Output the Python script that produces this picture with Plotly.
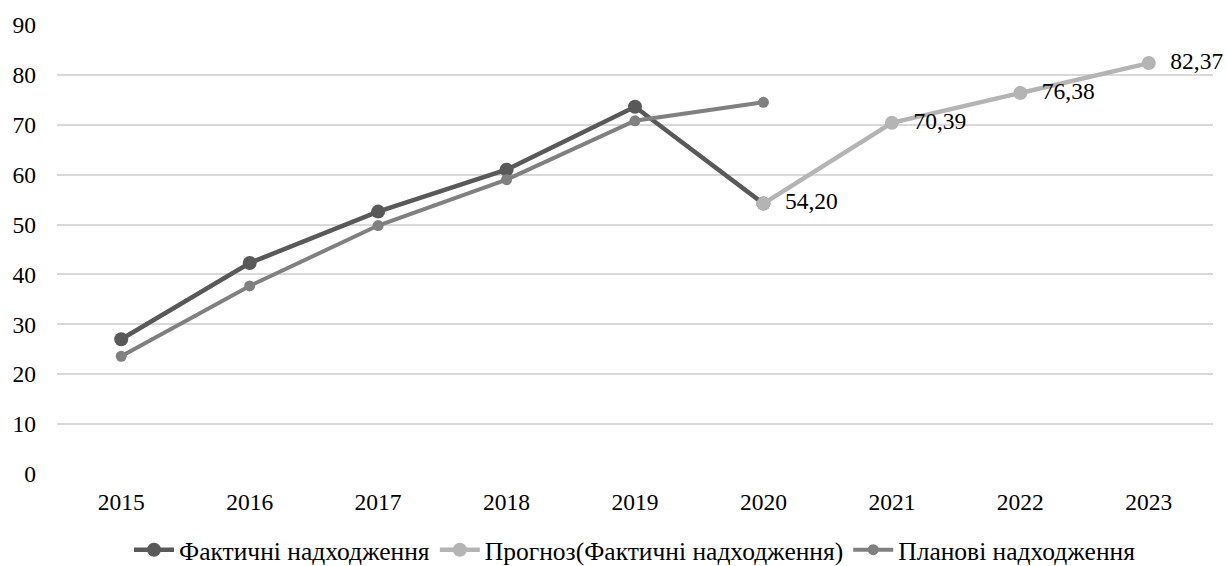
import plotly.graph_objects as go

# Years on the category axis
years = ["2015", "2016", "2017", "2018", "2019", "2020", "2021", "2022", "2023"]

# Actual revenues (2015–2020)
actual = [27.0, 42.3, 52.6, 61.0, 73.6, 54.20, None, None, None]

# Forecast continuing from the last actual value
forecast = [None, None, None, None, None, 54.20, 70.39, 76.38, 82.37]

# Planned revenues (2015–2020)
planned = [23.6, 37.7, 49.8, 59.0, 70.8, 74.5, None, None, None]

FONT = "Times New Roman, Liberation Serif, DejaVu Serif, serif"
FS = 23.5
LEGEND_FS = 25.5

def fmt(v):
    return "" if v is None else f"{v:.2f}".replace(".", ",")

forecast_labels = ["" if v is None else "  " + fmt(v) for v in forecast]

fig = go.Figure()

fig.add_trace(go.Scatter(
    x=years, y=actual, name="Фактичні надходження",
    mode="lines+markers",
    line=dict(color="#595959", width=4.5),
    marker=dict(color="#595959", size=14),
))

fig.add_trace(go.Scatter(
    x=years, y=forecast, name="Прогноз(Фактичні надходження)",
    mode="lines+markers+text",
    line=dict(color="#b4b4b4", width=4.5),
    marker=dict(color="#b4b4b4", size=14),
    text=forecast_labels,
    textposition="middle right",
    textfont=dict(family=FONT, size=FS, color="#000000"),
    cliponaxis=False,
))

fig.add_trace(go.Scatter(
    x=years, y=planned, name="Планові надходження",
    mode="lines+markers",
    line=dict(color="#808080", width=4),
    marker=dict(color="#808080", size=11),
))

fig.update_layout(
    width=1227, height=566,
    margin=dict(l=57, r=14, t=25, b=92),
    paper_bgcolor="white", plot_bgcolor="white",
    font=dict(family=FONT, size=FS, color="#000000"),
    showlegend=True,
    legend=dict(
        orientation="h", x=0.5, xanchor="center",
        yref="container", y=0.028, yanchor="middle",
        font=dict(family=FONT, size=LEGEND_FS, color="#000000"),
        itemwidth=40, tracegroupgap=0,
    ),
)

fig.update_xaxes(
    type="category", range=[-0.5, 8.5],
    showgrid=False, showline=False, zeroline=False,
    ticks="", ticklabelstandoff=11, automargin=False,
    tickfont=dict(family=FONT, size=FS, color="#000000"),
)

fig.update_yaxes(
    range=[0, 90], dtick=10, tick0=0,
    showgrid=True, gridcolor="#d9d9d9", gridwidth=1.5,
    zeroline=False, showline=False, ticks="",
    ticklabelstandoff=20, automargin=False,
    tickfont=dict(family=FONT, size=FS, color="#000000"),
)

fig.write_html("out.html")
